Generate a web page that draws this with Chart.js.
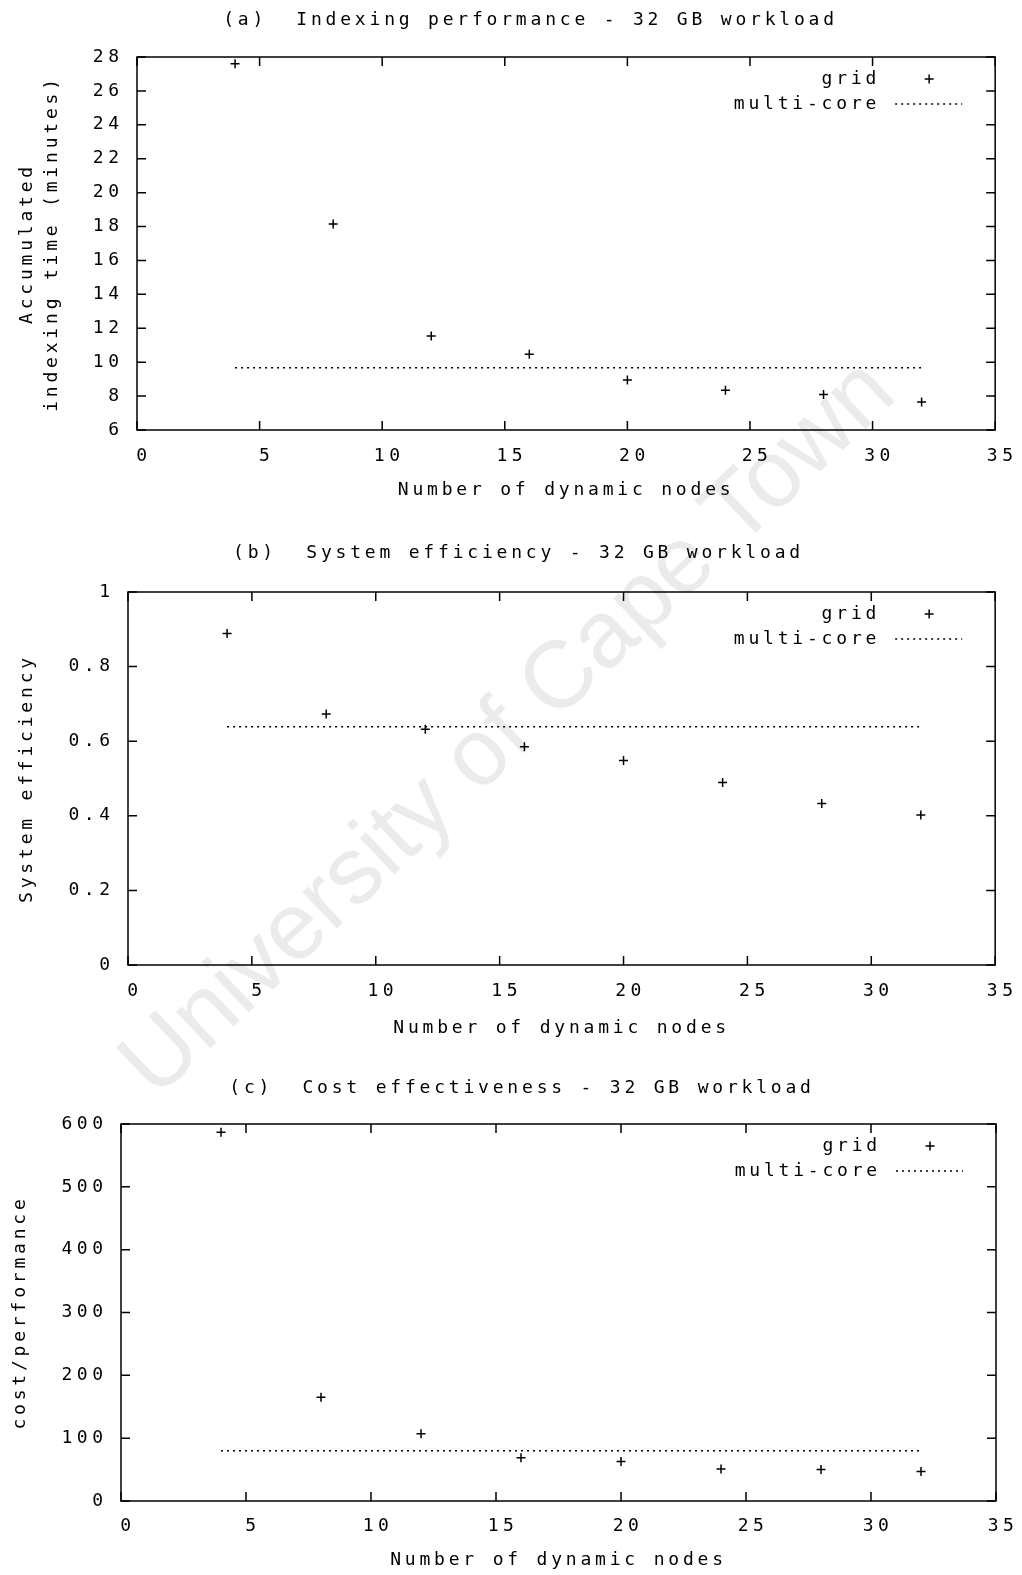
<!DOCTYPE html>
<html>
<head>
<meta charset="utf-8">
<script src="https://cdn.jsdelivr.net/npm/chart.js@4.4.1/dist/chart.umd.min.js"></script>
<style>
  body { margin: 0; background: #fff; }
  #page { position: relative; width: 1022px; height: 1575px; overflow: hidden; }
  .mark {
    position: absolute; left: 505px; top: 725px;
    transform: translate(-50%, -50%) rotate(-43.4deg);
    font: 95px "Liberation Sans", Arial, sans-serif;
    color: #ebebeb; white-space: nowrap;
  }
  canvas { position: absolute; left: 0; }
</style>
</head>
<body>
<div id="page">
  <div class="mark">University of Cape Town</div>
  <canvas id="chartA" width="1022" height="512" style="top:0px"></canvas>
  <canvas id="chartB" width="1022" height="520" style="top:530px"></canvas>
  <canvas id="chartC" width="1022" height="515" style="top:1060px"></canvas>
</div>
<script>
// number of dynamic nodes used for the grid runs
var nodes = [4, 8, 12, 16, 20, 24, 28, 32];
// the multi-core reference is drawn across this node range
var multiSpan = [4, 32];

// (a) accumulated indexing time, minutes
var gridTime = [27.6, 18.15, 11.55, 10.47, 8.95, 8.35, 8.1, 7.65];
var multiTime = 9.67;
// (b) system efficiency
var gridEff = [0.889, 0.673, 0.632, 0.585, 0.548, 0.489, 0.433, 0.402];
var multiEff = 0.639;
// (c) cost / performance
var gridCost = [587, 165, 107, 69, 63, 51, 50, 47];
var multiCost = 80;

// tick values
var xTicks = [0, 5, 10, 15, 20, 25, 30, 35];
var yTicksA = [6, 8, 10, 12, 14, 16, 18, 20, 22, 24, 26, 28];
var yTicksB = [0, 0.2, 0.4, 0.6, 0.8, 1];
var yTicksC = [0, 100, 200, 300, 400, 500, 600];

var FONT = '"DejaVu Sans Mono", monospace';
var TEXT_SPACING = '3.8px';
var TICK_SPACING = '4.5px';

// gnuplot look: box, inward mirrored ticks, key in the top right corner
var frame = {
  id: 'frame',
  afterLayout: function (chart, args, opts) {
    var tb = chart.titleBlock;
    if (tb) { tb.left += opts.titleShift; tb.right += opts.titleShift; }
  },
  beforeDraw: function (chart) { chart.ctx.letterSpacing = TEXT_SPACING; },
  afterDatasetsDraw: function (chart) { chart.ctx.letterSpacing = TICK_SPACING; },
  afterDraw: function (chart) {
    var ctx = chart.ctx, a = chart.chartArea, sx = chart.scales.x, sy = chart.scales.y, t = 9;
    ctx.save();
    ctx.strokeStyle = '#000';
    ctx.lineWidth = 1.5;
    ctx.setLineDash([]);
    ctx.beginPath();
    sx.ticks.forEach(function (tk) {
      var px = sx.getPixelForValue(tk.value);
      ctx.moveTo(px, a.bottom); ctx.lineTo(px, a.bottom - t);
      ctx.moveTo(px, a.top); ctx.lineTo(px, a.top + t);
    });
    sy.ticks.forEach(function (tk) {
      var py = sy.getPixelForValue(tk.value);
      ctx.moveTo(a.left, py); ctx.lineTo(a.left + t, py);
      ctx.moveTo(a.right, py); ctx.lineTo(a.right - t, py);
    });
    ctx.stroke();
    ctx.strokeRect(a.left, a.top, a.right - a.left, a.bottom - a.top);

    // key: label first, sample after it
    ctx.letterSpacing = TEXT_SPACING;
    ctx.font = '18px ' + FONT;
    ctx.fillStyle = '#000';
    ctx.textAlign = 'right';
    ctx.textBaseline = 'middle';
    chart.data.datasets.forEach(function (ds, i) {
      var ky = a.top + 22 + i * 25;
      ctx.fillText(ds.label, a.right - 115, ky);
      ctx.beginPath();
      if (ds.pointStyle === 'cross') {
        ctx.setLineDash([]);
        ctx.moveTo(a.right - 70.5, ky); ctx.lineTo(a.right - 61.5, ky);
        ctx.moveTo(a.right - 66, ky - 4.5); ctx.lineTo(a.right - 66, ky + 4.5);
      } else {
        ctx.setLineDash(ds.borderDash);
        ctx.moveTo(a.right - 100, ky); ctx.lineTo(a.right - 33, ky);
      }
      ctx.stroke();
    });
    ctx.restore();
  }
};

function makeChart(id, s) {
  return new Chart(document.getElementById(id), {
    type: 'scatter',
    data: {
      datasets: [{
        label: 'grid',
        data: nodes.map(function (n, i) { return {x: n, y: s.grid[i]}; }),
        pointStyle: 'cross',
        pointRadius: 4.5,
        pointHoverRadius: 4.5,
        borderColor: '#000',
        backgroundColor: '#000',
        borderWidth: 1.5
      }, {
        type: 'line',
        label: 'multi-core',
        data: multiSpan.map(function (n) { return {x: n, y: s.multi}; }),
        borderColor: '#000',
        borderWidth: 1.5,
        borderDash: [2, 4],
        pointRadius: 0,
        fill: false
      }]
    },
    options: {
      responsive: false,
      animation: false,
      devicePixelRatio: 1,
      layout: {padding: {left: 0, top: 0, right: s.padRight, bottom: 0}},
      plugins: {
        legend: {display: false},
        tooltip: {enabled: false},
        title: {
          display: true,
          text: s.title,
          color: '#000',
          font: {family: FONT, size: 18, weight: 'normal'},
          padding: {top: s.titleTop, bottom: s.titleBottom}
        },
        frame: {titleShift: s.titleShift}
      },
      scales: {
        x: {
          type: 'linear',
          min: xTicks[0],
          max: xTicks[xTicks.length - 1],
          afterBuildTicks: function (sc) { sc.ticks = xTicks.map(function (v) { return {value: v}; }); },
          afterFit: function (sc) { sc.height = s.xHeight; },
          grid: {display: false, drawTicks: false},
          border: {display: false},
          ticks: {color: '#000', font: {family: FONT, size: 18}, padding: s.xTickPad, labelOffset: 7, z: 1, autoSkip: false, maxRotation: 0},
          title: {
            display: true,
            text: 'Number of dynamic nodes',
            color: '#000',
            font: {family: FONT, size: 18},
            padding: {top: 0, bottom: s.xTitlePad}
          }
        },
        y: {
          type: 'linear',
          min: s.yTicks[0],
          max: s.yTicks[s.yTicks.length - 1],
          afterBuildTicks: function (sc) { sc.ticks = s.yTicks.map(function (v) { return {value: v}; }); },
          afterFit: function (sc) { sc.width = s.yWidth; },
          grid: {display: false, drawTicks: false},
          border: {display: false},
          ticks: {
            color: '#000', font: {family: FONT, size: 18}, padding: 13.5, z: 1, autoSkip: false,
            callback: function (v) { return String(v); }
          },
          title: {
            display: true,
            text: s.yTitle,
            color: '#000',
            font: {family: FONT, size: 18, lineHeight: 1.39},
            padding: {top: s.yTitlePad, bottom: 0}
          }
        }
      }
    },
    plugins: [frame]
  });
}

makeChart('chartA', {
  title: '(a)  Indexing performance - 32 GB workload',
  grid: gridTime, multi: multiTime, yTicks: yTicksA,
  yTitle: ['Accumulated', 'indexing time (minutes)'],
  yWidth: 137, padRight: 25, xHeight: 82,
  titleTop: 9.2, titleBottom: 26.2, titleShift: 32,
  xTickPad: 16, xTitlePad: 11.2, yTitlePad: 14.5
});

makeChart('chartB', {
  title: '(b)  System efficiency - 32 GB workload',
  grid: gridEff, multi: multiEff, yTicks: yTicksB,
  yTitle: 'System efficiency',
  yWidth: 128, padRight: 25, xHeight: 85,
  titleTop: 12.2, titleBottom: 28.2, titleShift: 20,
  xTickPad: 16, xTitlePad: 11.2, yTitlePad: 14.5
});

makeChart('chartC', {
  title: '(c)  Cost effectiveness - 32 GB workload',
  grid: gridCost, multi: multiCost, yTicks: yTicksC,
  yTitle: 'cost/performance',
  yWidth: 121, padRight: 26, xHeight: 74,
  titleTop: 17.2, titleBottom: 25.2, titleShift: 24,
  xTickPad: 14.2, xTitlePad: 4.2, yTitlePad: 7.5
});
</script>
</body>
</html>
